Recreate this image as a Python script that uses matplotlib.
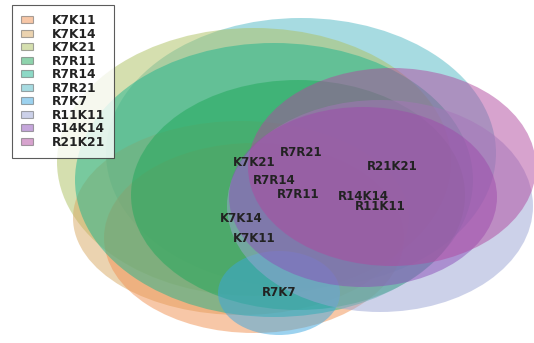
import matplotlib
matplotlib.use("Agg")
import matplotlib.pyplot as plt
from matplotlib.patches import Ellipse, Patch

# sets (Venn-like ellipses) in pixel units
names = ["K7K11", "K7K14", "K7K21", "R7R11", "R7R14",
         "R7R21", "R7K7", "R11K11", "R14K14", "R21K21"]
cx = [254, 241, 254, 298, 274, 301, 279, 380, 363, 392]
cy = [238, 218, 162, 195, 180, 153, 293, 206, 197, 167]
rx = [150, 168, 197, 167, 199, 195, 61, 153, 134, 144]
ry = [95, 97, 134, 115, 137, 135, 42, 106, 90, 99]
colors = ["#F19151", "#D8A862", "#ADC161", "#1FA85A", "#1DB48E",
          "#51B9C5", "#3AA6E0", "#9BA5D5", "#8C4EB8", "#B0489F"]
# drawing order (cyan first so the greens stay green)
order = [5, 2, 1, 0, 4, 3, 6, 7, 8, 9]
alpha = 0.5

fig = plt.figure(figsize=(5.34, 3.43), dpi=100)
ax = fig.add_axes([0, 0, 1, 1])
ax.set_xlim(0, 534)
ax.set_ylim(343, 0)
ax.axis("off")

for i in order:
    e = Ellipse((cx[i], cy[i]), 2 * rx[i], 2 * ry[i],
                facecolor=colors[i], edgecolor="none", alpha=alpha)
    ax.add_patch(e)

for i in range(len(names)):
    ax.text(cx[i], cy[i], names[i], ha="center", va="center",
            fontsize=8.5, fontweight="bold", color="#222222")

handles = [Patch(facecolor=c, edgecolor="#555555", alpha=0.5, linewidth=0.8)
           for c in colors]
leg = ax.legend(handles, names, loc="upper left", bbox_to_anchor=(0.022, 0.985),
                prop={"size": 8.8, "weight": "bold"}, frameon=True,
                fancybox=False, edgecolor="#333333",
                handlelength=1.0, handleheight=0.5, labelspacing=0.04,
                borderpad=0.75, handletextpad=1.5, borderaxespad=0)
leg.get_frame().set_linewidth(0.8)
for t in leg.get_texts():
    t.set_color("#222222")

fig.savefig("out.png", dpi=100)
